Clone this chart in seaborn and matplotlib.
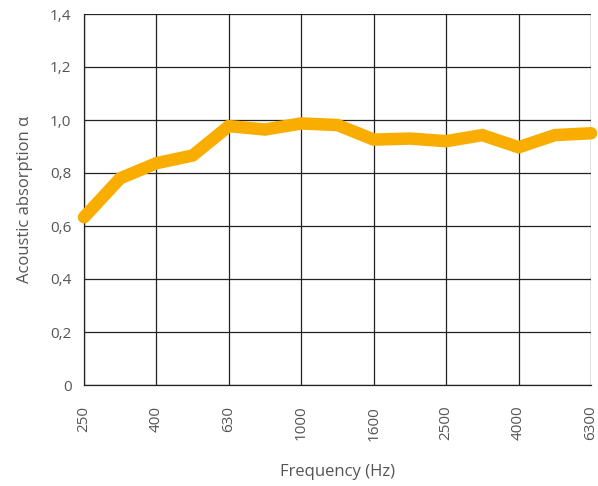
import pandas as pd
import matplotlib
matplotlib.use("Agg")
import matplotlib.pyplot as plt
import seaborn as sns

# third-octave bands and measured absorption
freqs = ["250", "315", "400", "500", "630", "800", "1000", "1250",
         "1600", "2000", "2500", "3150", "4000", "5000", "6300"]
alpha = [0.633, 0.78, 0.837, 0.866, 0.977, 0.964, 0.987, 0.981,
         0.926, 0.93, 0.92, 0.943, 0.897, 0.943, 0.95]
y_ticks = [0, 0.2, 0.4, 0.6, 0.8, 1.0, 1.2, 1.4]
y_labels = ["0", "0,2", "0,4", "0,6", "0,8", "1,0", "1,2", "1,4"]

df = pd.DataFrame({"freq": freqs, "alpha": alpha})

sns.set_style("white")
plt.rcParams["font.family"] = ["Open Sans", "DejaVu Sans"]
txt = "#555555"

fig = plt.figure(figsize=(5.98, 4.86), dpi=100)
ax = fig.add_axes([84 / 598, 1 - 385 / 486, (591 - 84) / 598, (385 - 14) / 486])

sns.lineplot(data=df, x="freq", y="alpha", ax=ax, color="#F9AD00",
             linewidth=9, solid_capstyle="round", solid_joinstyle="miter",
             zorder=3, clip_on=False)

ax.set_xlim(0, len(freqs) - 1)
ax.set_ylim(0, 1.4)
ax.set_xticks(range(0, len(freqs), 2))
ax.set_xticklabels(freqs[::2], rotation=90, color=txt, fontsize=11,
                   rotation_mode="anchor", ha="right", va="center")
ax.set_yticks(y_ticks)
ax.set_yticklabels(y_labels, color=txt, fontsize=11)

ax.grid(True, which="major", color="#222222", linewidth=0.9)
ax.tick_params(axis="both", length=0)
ax.tick_params(axis="x", pad=15)
ax.tick_params(axis="y", pad=9)
for s in ["left", "bottom"]:
    ax.spines[s].set_color("#222222")
    ax.spines[s].set_linewidth(0.9)
ax.spines["top"].set_visible(False)
ax.spines["right"].set_visible(False)

ax.set_xlabel("Frequency (Hz)", color=txt, fontsize=12, labelpad=17)
ax.set_ylabel("Acoustic absorption α", color=txt, fontsize=12, labelpad=12)

fig.savefig("out.png", dpi=100)
